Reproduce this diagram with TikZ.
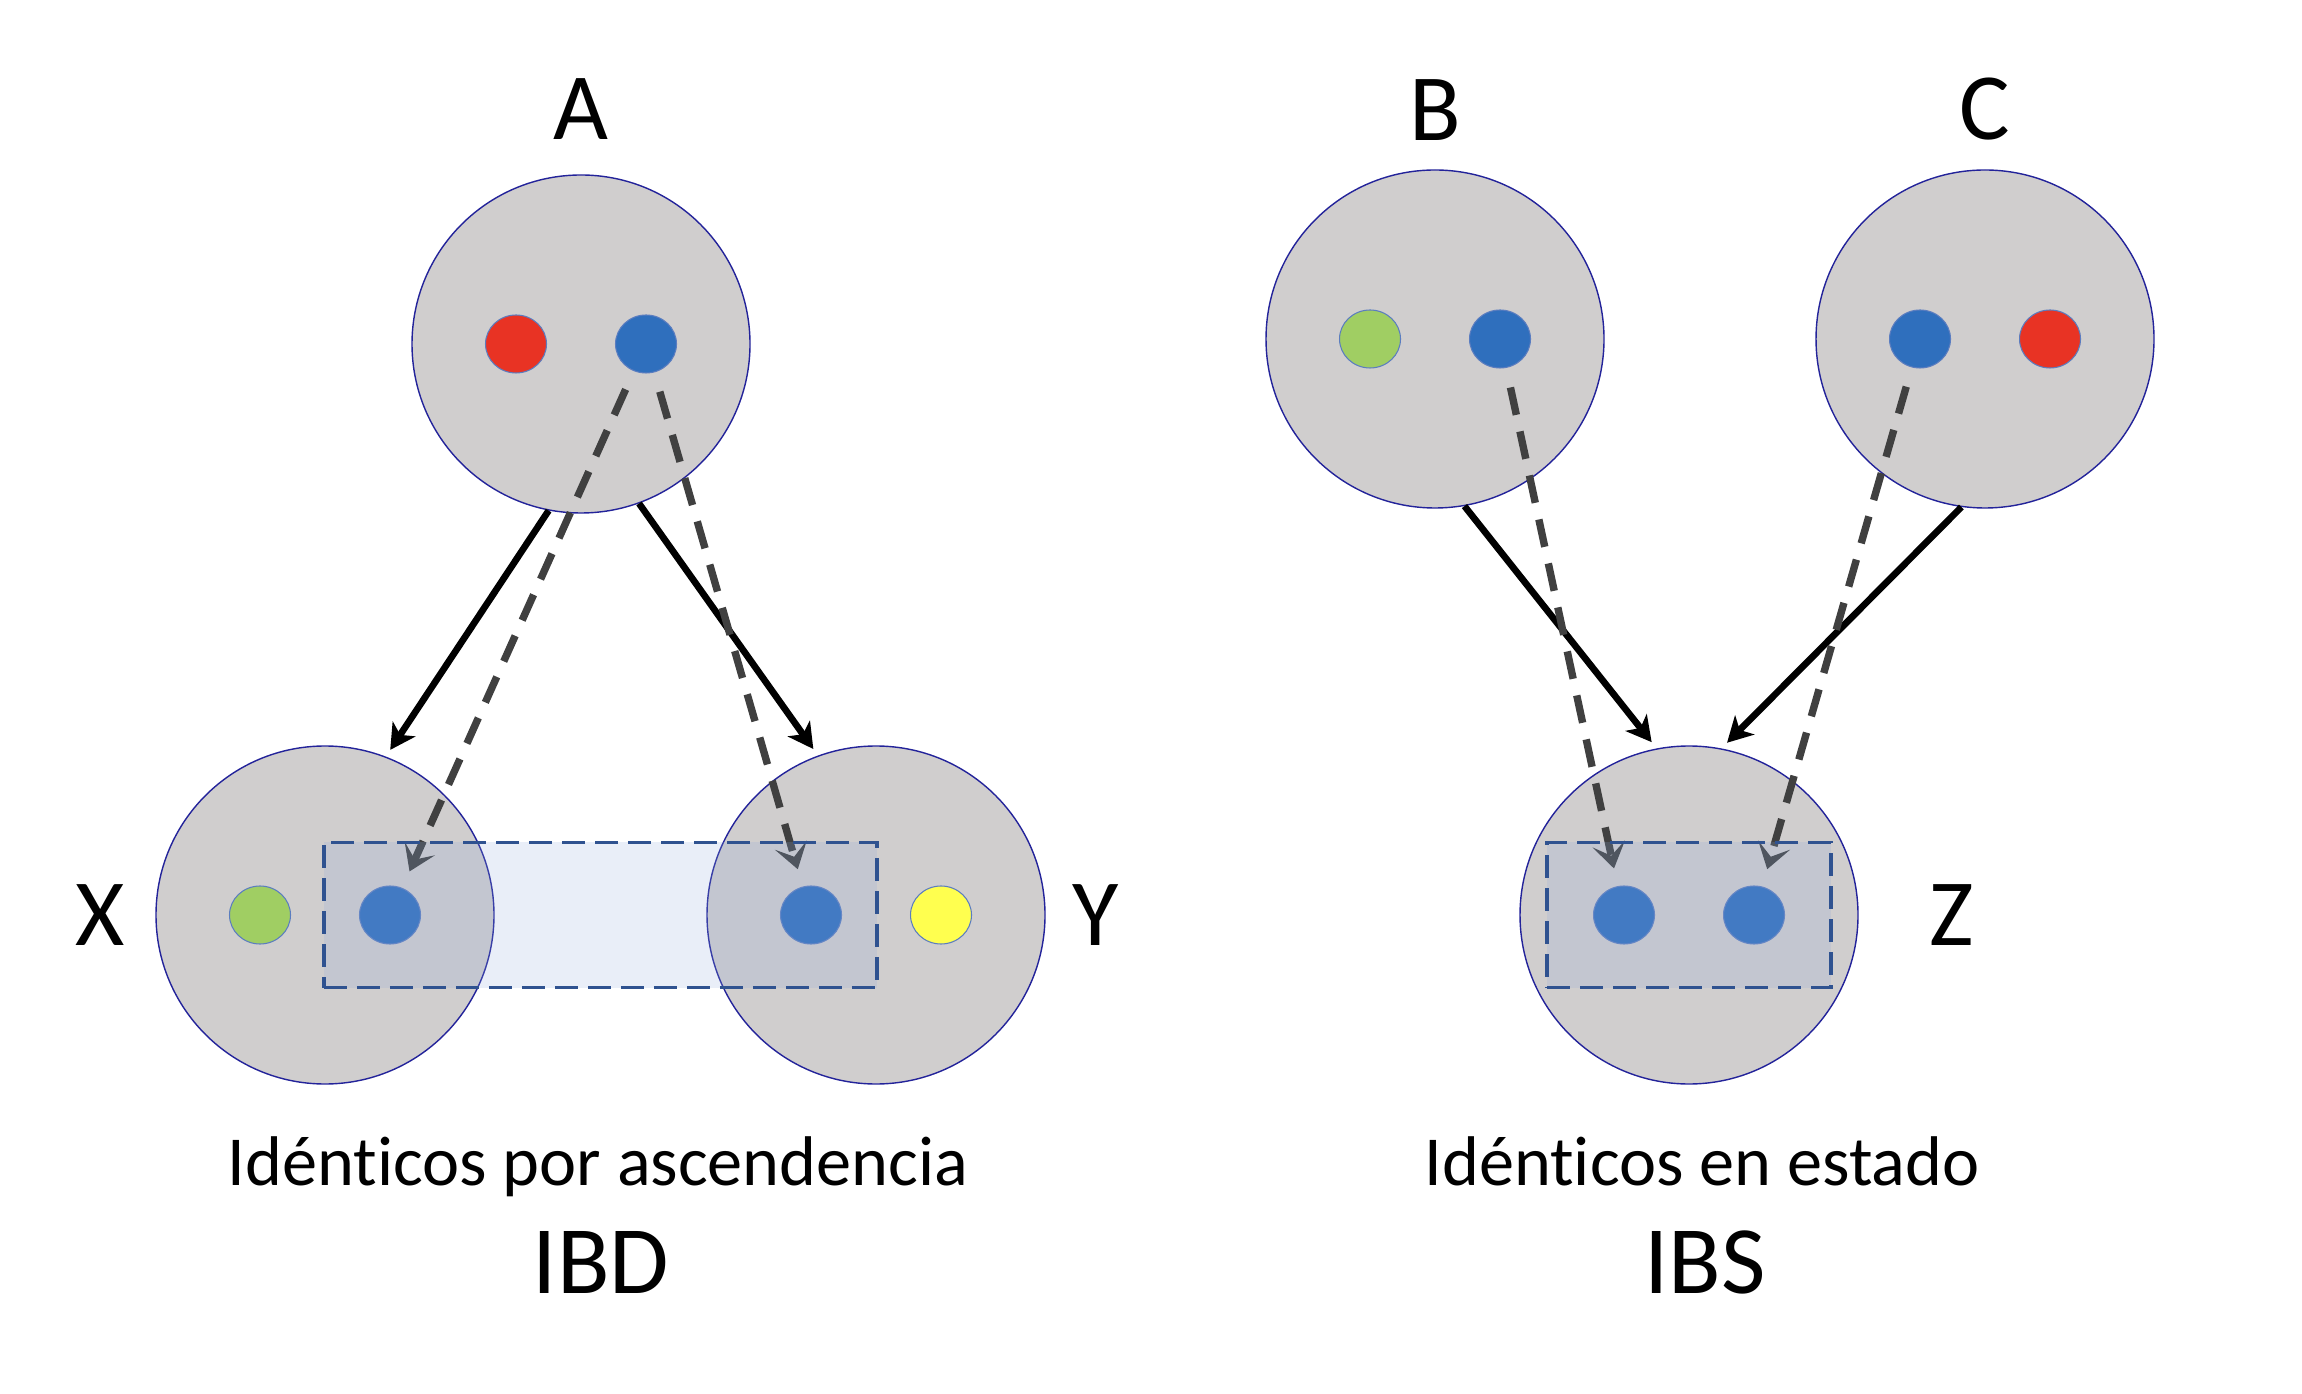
\documentclass[tikz,border=0pt]{standalone}
\usepackage{fontspec}
\setmainfont{Carlito}[Ligatures=NoCommon]
\usetikzlibrary{shapes.geometric,arrows.meta,positioning,fit}
\definecolor{cellgray}{HTML}{D0CECE}
\definecolor{celledge}{HTML}{23239A}
\definecolor{redal}{HTML}{E83324}
\definecolor{blueal}{HTML}{2F6FBD}
\definecolor{greenal}{HTML}{A0CE63}
\definecolor{yellowal}{HTML}{FFFF4F}
\definecolor{aledge}{HTML}{5B7DC0}
\definecolor{pathgray}{HTML}{404040}
\definecolor{boxedge}{HTML}{2F5290}
\definecolor{boxfill}{HTML}{8FAADC}

\begin{document}
\begin{tikzpicture}[
    x=0.1mm, y=-0.1mm,
    cell/.style={circle, fill=cellgray, draw=celledge, line width=0.4pt,
                 minimum size=33.8mm, inner sep=0pt},
    allele/.style={ellipse, fill=#1, draw=aledge, line width=0.3pt,
                   minimum width=6.1mm, minimum height=5.8mm, inner sep=0pt},
    celllab/.style={font=\fontsize{27}{32}\selectfont, inner sep=0pt},
    captxt/.style={font=\fontsize{20}{24}\selectfont, inner sep=0pt, anchor=base},
    tagtxt/.style={font=\fontsize{27.5}{33}\selectfont, inner sep=0pt, anchor=base},
    inherit/.style={-{Stealth[length=2.5mm,width=2.7mm,inset=0.7mm]}, line width=1.9pt,
                    shorten >=0.8mm},
    ibdpath/.style={-{Stealth[length=2.5mm,width=3.3mm,inset=1.2mm]}, draw=pathgray,
                    line width=2.1pt, dash pattern=on 2.8mm off 1.7mm,
                    shorten <=2mm, shorten >=1.8mm},
    sharebox/.style={draw=boxedge, line width=1pt, dash pattern=on 2.3mm off 1mm,
                     fill=boxfill, fill opacity=0.2, inner ysep=4.3mm}
]
\useasboundingbox (0,0) rectangle (2302,1394);

% IBD side
\node[cell] (A) at (581,344) {};
\node[cell] (X) at (325,915) {};
\node[cell] (Y) at (876,915) {};
\node[allele=redal]    (a1) at ([xshift=-6.5mm]A.center) {};
\node[allele=blueal]   (a2) at ([xshift=6.5mm]A.center) {};
\node[allele=greenal]  (x1) at ([xshift=-6.5mm]X.center) {};
\node[allele=blueal]   (x2) at ([xshift=6.5mm]X.center) {};
\node[allele=blueal]   (y1) at ([xshift=-6.5mm]Y.center) {};
\node[allele=yellowal] (y2) at ([xshift=6.5mm]Y.center) {};

\node[celllab, above=3.4mm of A] (lA) {A};
\node[celllab, left=3mm of X] (lX) {X};
\node[celllab, right=2.6mm of Y] (lY) {Y};

% IBS side
\node[cell] (B) at (1435,339) {};
\node[cell] (C) at (1985,339) {};
\node[cell] (Z) at (1689,915) {};
\node[allele=greenal] (b1) at ([xshift=-6.5mm]B.center) {};
\node[allele=blueal]  (b2) at ([xshift=6.5mm]B.center) {};
\node[allele=blueal]  (c1) at ([xshift=-6.5mm]C.center) {};
\node[allele=redal]   (c2) at ([xshift=6.5mm]C.center) {};
\node[allele=blueal]  (z1) at ([xshift=-6.5mm]Z.center) {};
\node[allele=blueal]  (z2) at ([xshift=6.5mm]Z.center) {};

\node[celllab, above=2.8mm of B] (lB) {B};
\node[celllab, above=2.8mm of C] (lC) {C};
\node[celllab, right=7mm of Z] (lZ) {Z};

% parent to child
\draw[inherit] (A.-101) -- (X.69);
\draw[inherit] (A.-70) -- (Y.110);
\draw[inherit] (B.-80) -- (Z.101);
\draw[inherit] (C.-98) -- (Z.79);

% allele copies
\draw[ibdpath] (a2) -- (x2);
\draw[ibdpath] (a2) -- (y1);
\draw[ibdpath] (b2) -- (z1);
\draw[ibdpath] (c1) -- (z2);

% shared alleles
\node[sharebox, inner xsep=3.5mm, fit=(x2)(y1)] (xy) {};
\node[sharebox, inner xsep=4.6mm, fit=(z1)(z2)] (zz) {};

% captions
\node[captxt] (cIBD) at (598,1185) {Idént\kern0pt icos por ascendencia};
\node[tagtxt] (tIBD) at (601,1293) {IBD};
\node[captxt] (cIBS) at (1702,1185) {Idént\kern0pt icos en estado};
\node[tagtxt] (tIBS) at (1705,1293) {IBS};
\end{tikzpicture}
\end{document}
